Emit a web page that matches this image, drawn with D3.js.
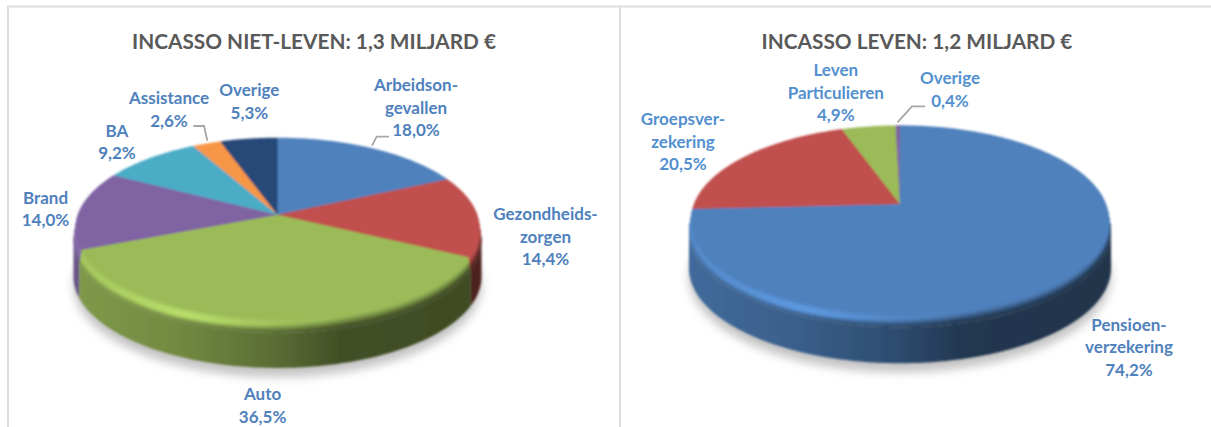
<!DOCTYPE html>
<html>
<head>
<meta charset="utf-8">
<script src="https://cdn.jsdelivr.net/npm/d3@7"></script>
<style>
  html, body { margin: 0; padding: 0; background: #fff; overflow: hidden; }
  svg { display: block; }
  text { font-family: Lato, "Open Sans", sans-serif; font-weight: bold; text-anchor: middle; }
</style>
</head>
<body>
<div id="main"></div>
<script>
// data
const titleNiet = "INCASSO NIET-LEVEN: 1,3 MILJARD €";
const catNiet = [["Arbeidson-", "gevallen"], ["Gezondheids-", "zorgen"], ["Auto"], ["Brand"], ["BA"], ["Assistance"], ["Overige"]];
const valNiet = [18.0, 14.4, 36.5, 14.0, 9.2, 2.6, 5.3];
const colNiet = ["#4f81bd", "#c0504d", "#9bbb59", "#8064a2", "#4bacc6", "#f79646", "#264a78"];

const titleLeven = "INCASSO LEVEN: 1,2 MILJARD €";
const catLeven = [["Pensioen-", "verzekering"], ["Groepsver-", "zekering"], ["Leven", "Particulieren"], ["Overige"]];
const valLeven = [74.2, 20.5, 4.9, 0.4];
const colLeven = ["#4f81bd", "#c0504d", "#9bbb59", "#8064a2"];

// layout of the two charts (label anchor = centre x, first baseline)
const ctx = { width: 1211, height: 427, lineH: 22.7 };

const layoutNiet = {
    id: "niet", cx: 277.5, cy: 214.7, A: 199.7, B: 88.5, k: 0.149, bevelDy: 13, wall: 35, titleX: 314,
    labels: [[416, 91], [545.5, 220], [262.6, 400], [45.5, 203.7], [117, 136.7], [169, 104], [249.4, 96]],
    labelColor: "#4f81bd",
    leaders: [[[372, 145.7], [376.7, 136.7], [389, 136.7]], [[193.4, 126], [204, 126], [207.4, 140.7]]]
};
const layoutLeven = {
    id: "leven", cx: 900, cy: 204, A: 206, B: 91.7, k: 0.166, bevelDy: 12, wall: 36, titleX: 917,
    labels: [[1129, 330.7], [683, 125], [835.8, 76], [950, 84]],
    labelColor: "#5390cf",
    leaders: [[[897.5, 122.3], [912, 106.3], [925, 106.3]]]
};

const fmt = d3.formatLocale({ decimal: ",", thousands: ".", grouping: [3], currency: ["", "€"] }).format(".1f");

// light on the side wall and on the bevel, s = -1 left .. 1 right
const wallLight = d3.scaleLinear().domain([-1, -0.5, 0, 0.3, 1]).range([0.82, 0.74, 0.58, 0.43, 0.40]);
const bevelLight = d3.scaleLinear().domain([-1, -0.45, 0, 0.3, 1]).range([0.25, 1, 0.2, 0, 0]).clamp(true);
const bevelStart = d3.scaleLinear().domain([-0.5, 0.4]).range([0.6, 0.1]).clamp(true);

function smooth(a, b, x) {
    let t = Math.max(0, Math.min(1, (x - a) / (b - a)));
    return t * t * (3 - 2 * t);
}

function shade(color, f) {
    let c = d3.rgb(color);
    return d3.rgb(Math.min(255, c.r * f), Math.min(255, c.g * f), Math.min(255, c.b * f));
}

function createViz() {
    let svg = d3.select("#main").append("svg")
        .attr("width", ctx.width)
        .attr("height", ctx.height);

    svg.append("rect").attr("width", ctx.width).attr("height", ctx.height).attr("fill", "#fff");

    // frame
    svg.append("path")
        .attr("d", "M8,427V6.5H1211M620,6.5V427")
        .attr("fill", "none")
        .attr("stroke", "#dedede")
        .attr("stroke-width", 2);

    let defs = svg.append("defs");
    defs.append("filter").attr("id", "shadowBlur")
        .attr("x", "-20%").attr("y", "-20%").attr("width", "140%").attr("height", "140%")
        .append("feGaussianBlur").attr("stdDeviation", 5);
    defs.append("filter").attr("id", "softBlur")
        .attr("x", "-5%").attr("y", "-5%").attr("width", "110%").attr("height", "110%")
        .append("feGaussianBlur").attr("stdDeviation", 1);

    drawPie(svg, defs, layoutNiet, titleNiet, catNiet, valNiet, colNiet);
    drawPie(svg, defs, layoutLeven, titleLeven, catLeven, valLeven, colLeven);
}

function drawPie(svg, defs, p, title, cats, vals, cols) {
    // angles clockwise from the top
    let arcs = d3.pie().sort(null)(vals);

    // perspective projection of the disc on the screen
    function project(a, r, dy) {
        let w = 1 + p.k * r * Math.cos(a);
        return [p.cx + p.A * r * Math.sin(a) / w, p.cy - p.B * r * Math.cos(a) / w + dy];
    }

    let line = d3.line();
    let halfW = p.A * 1.01 / Math.sqrt(1 - p.k * p.k);

    function sample(a0, a1, r, dy) {
        let n = Math.max(2, Math.ceil((a1 - a0) / 0.02));
        return d3.range(n + 1).map(i => project(a0 + (a1 - a0) * i / n, r, dy));
    }

    function wedge(d, r, dy) {
        return line([project(0, 0, dy)].concat(sample(d.startAngle, d.endAngle, r, dy))) + "Z";
    }

    function gradient(id, colorAt) {
        let g = defs.append("linearGradient").attr("id", id)
            .attr("gradientUnits", "userSpaceOnUse")
            .attr("x1", p.cx - halfW).attr("x2", p.cx + halfW)
            .attr("y1", 0).attr("y2", 0);
        d3.range(21).forEach(i => {
            let s = -1 + i / 10;
            g.append("stop").attr("offset", i / 20).attr("stop-color", colorAt(s));
        });
        return "url(#" + id + ")";
    }

    // shadow under the disc
    svg.append("path")
        .attr("d", line(sample(0, 2 * Math.PI, 1.01, p.bevelDy + p.wall + 9)) + "Z")
        .attr("fill", "#c4c4c4")
        .attr("filter", "url(#shadowBlur)");

    let pie = svg.append("g").attr("filter", "url(#softBlur)");

    // front part of the wall only, back slices first
    let right = Math.acos(-p.k), left = 2 * Math.PI - right;
    let order = d3.range(arcs.length).sort((a, b) =>
        Math.abs((arcs[b].startAngle + arcs[b].endAngle) / 2 - Math.PI) - Math.abs((arcs[a].startAngle + arcs[a].endAngle) / 2 - Math.PI));

    order.forEach(i => {
        let a0 = Math.max(arcs[i].startAngle, right), a1 = Math.min(arcs[i].endAngle, left);
        if (a1 <= a0) return;
        let top = sample(a0, a1, 1.01, p.bevelDy);
        let bottom = sample(a0, a1, 1.01, p.bevelDy + p.wall).reverse();
        pie.append("path")
            .attr("d", line(top.concat(bottom)) + "Z")
            .attr("fill", gradient(p.id + "-wall-" + i, s => shade(cols[i], wallLight(s))));
    });

    // bevel, outer layer first
    let nLayers = 16;
    d3.range(nLayers, 0, -1).forEach(l => {
        let t = l / nLayers;
        order.forEach(i => {
            let fill = gradient(p.id + "-bevel-" + i + "-" + l, s => {
                let lit = shade(cols[i], 1 + 0.2 * bevelLight(s) * Math.sin(Math.PI * Math.min(t / 0.85, 1)));
                return d3.interpolateRgb(lit, shade(cols[i], wallLight(s)))(smooth(bevelStart(s), 1, t));
            });
            pie.append("path")
                .attr("d", wedge(arcs[i], 1 + 0.01 * t, p.bevelDy * t))
                .attr("fill", fill);
        });
    });

    // flat top
    pie.selectAll(".face").data(arcs).enter().append("path")
        .attr("class", "face")
        .attr("d", d => wedge(d, 1, 0))
        .attr("fill", (d, i) => cols[i]);

    // leader lines
    svg.selectAll(".leader-" + p.id).data(p.leaders).enter().append("path")
        .attr("class", "leader-" + p.id)
        .attr("d", d => line(d))
        .attr("fill", "none")
        .attr("stroke", "#a6a6a6")
        .attr("stroke-width", 1.8);

    // title
    svg.append("text")
        .attr("x", p.titleX)
        .attr("y", 49)
        .attr("fill", "#595959")
        .style("font-size", "20.8px")
        .text(title);

    // labels
    cats.forEach((lines, i) => {
        let txt = svg.append("text")
            .attr("fill", i == 0 ? "#4f81bd" : p.labelColor)
            .style("font-size", "17px");
        lines.concat([fmt(vals[i]) + "%"]).forEach((s, j) => {
            txt.append("tspan")
                .attr("x", p.labels[i][0])
                .attr("y", p.labels[i][1] + j * ctx.lineH)
                .text(s);
        });
    });
}

createViz();
</script>
</body>
</html>
